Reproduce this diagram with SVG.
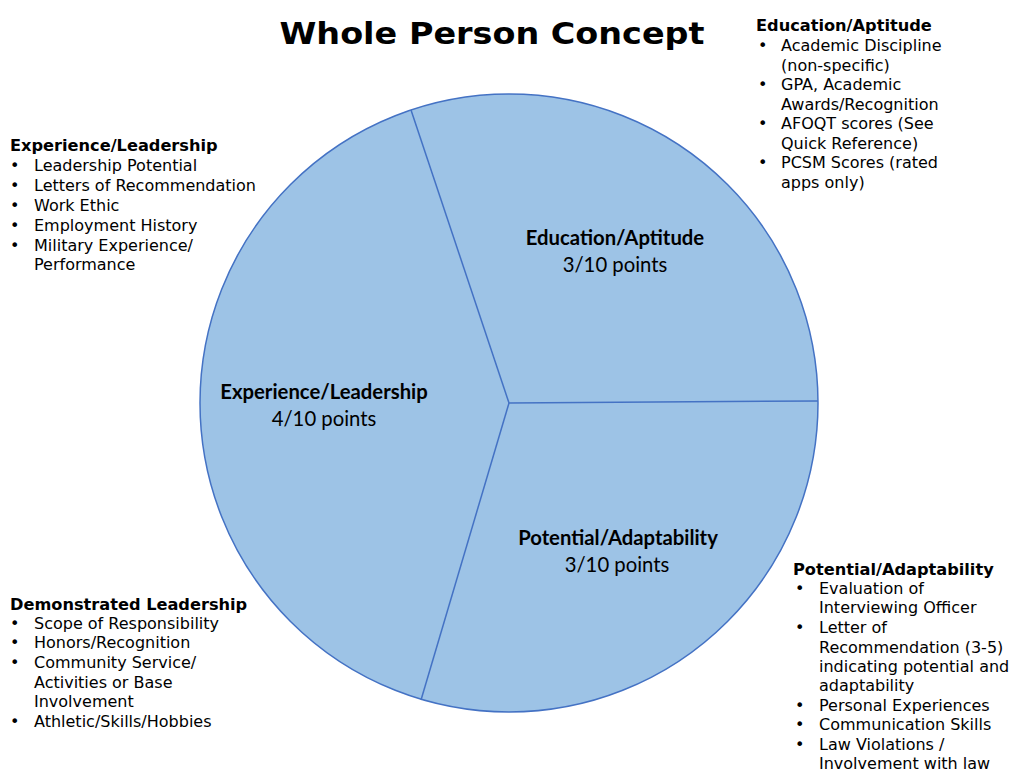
<svg xmlns="http://www.w3.org/2000/svg" width="1024" height="783" viewBox="0 0 1024 783">
<style>
.t{font-family:"DejaVu Sans",Verdana,sans-serif;font-size:16px;fill:#000}
.h{font-weight:bold;font-size:16.2px}
.pl{font-family:Lato,"Open Sans",sans-serif;font-size:20.3px;fill:#000;text-anchor:middle}
.b{font-weight:bold}
.slice{fill:#9DC3E6;stroke:#4472C4;stroke-width:1.5}
</style>
<rect width="1024" height="783" fill="#fff"/>
<text x="492" y="44" text-anchor="middle" style="font-family:'DejaVu Sans',Verdana,sans-serif;font-weight:bold;font-size:31px" textLength="425" lengthAdjust="spacingAndGlyphs">Whole Person Concept</text>
<g id="pie">
<circle class="slice" cx="509" cy="403" r="309"/>
<g id="connectors" stroke="#4472C4" stroke-width="1.5" fill="none">
<line x1="509" y1="403" x2="411" y2="110"/>
<line x1="509" y1="403" x2="818" y2="401"/>
<line x1="509" y1="403" x2="421" y2="700"/>
</g>
</g>
<g id="slice-education">
<text class="pl b" x="615" y="245">Education/Aptitude</text>
<text class="pl" x="615" y="272">3/10 points</text>
</g>
<g id="slice-experience">
<text class="pl b" x="324" y="399">Experience/Leadership</text>
<text class="pl" x="324" y="426">4/10 points</text>
</g>
<g id="slice-potential">
<text class="pl b" x="618" y="545">Potential/Adaptability</text>
<text class="pl" x="617" y="572">3/10 points</text>
</g>
<g id="list-education" class="t">
<text class="h" x="756" y="31">Education/Aptitude</text>
<text x="758" y="51">•</text><text x="781" y="51">Academic Discipline</text>
<text x="781" y="71">(non-specific)</text>
<text x="758" y="90">•</text><text x="781" y="90">GPA, Academic</text>
<text x="781" y="110">Awards/Recognition</text>
<text x="758" y="129">•</text><text x="781" y="129">AFOQT scores (See</text>
<text x="781" y="149">Quick Reference)</text>
<text x="758" y="168">•</text><text x="781" y="168">PCSM Scores (rated</text>
<text x="781" y="188">apps only)</text>
</g>
<g id="list-experience" class="t">
<text class="h" x="10" y="151">Experience/Leadership</text>
<text x="10" y="171">•</text><text x="34" y="171">Leadership Potential</text>
<text x="10" y="191">•</text><text x="34" y="191">Letters of Recommendation</text>
<text x="10" y="211">•</text><text x="34" y="211">Work Ethic</text>
<text x="10" y="231">•</text><text x="34" y="231">Employment History</text>
<text x="10" y="251">•</text><text x="34" y="251">Military Experience/</text>
<text x="34" y="270">Performance</text>
</g>
<g id="list-demonstrated" class="t">
<text class="h" x="10" y="610">Demonstrated Leadership</text>
<text x="10" y="629">•</text><text x="34" y="629">Scope of Responsibility</text>
<text x="10" y="648">•</text><text x="34" y="648">Honors/Recognition</text>
<text x="10" y="668">•</text><text x="34" y="668">Community Service/</text>
<text x="34" y="688">Activities or Base</text>
<text x="34" y="707">Involvement</text>
<text x="10" y="727">•</text><text x="34" y="727">Athletic/Skills/Hobbies</text>
</g>
<g id="list-potential" class="t">
<text class="h" x="793" y="575">Potential/Adaptability</text>
<text x="795" y="594">•</text><text x="819" y="594">Evaluation of</text>
<text x="819" y="613">Interviewing Officer</text>
<text x="795" y="633">•</text><text x="819" y="633">Letter of</text>
<text x="819" y="653">Recommendation (3-5)</text>
<text x="819" y="672">indicating potential and</text>
<text x="819" y="691">adaptability</text>
<text x="795" y="711">•</text><text x="819" y="711">Personal Experiences</text>
<text x="795" y="730">•</text><text x="819" y="730">Communication Skills</text>
<text x="795" y="750">•</text><text x="819" y="750">Law Violations /</text>
<text x="819" y="769">Involvement with law</text>
</g>
</svg>
